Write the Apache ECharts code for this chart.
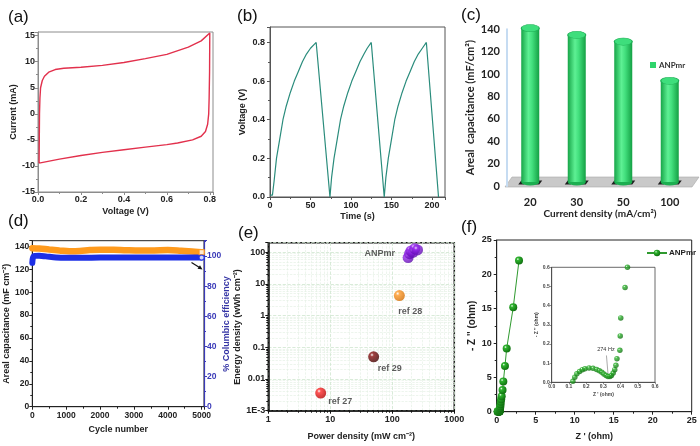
<!DOCTYPE html>
<html><head><meta charset="utf-8">
<script src="https://cdn.jsdelivr.net/npm/echarts/dist/echarts.min.js"></script>
<style>html,body{margin:0;padding:0;background:#fff}#c{width:700px;height:446px}</style>
</head><body><div id="c"></div>
<script>
// (a) cyclic voltammogram
const cvV = [0.005,0.006,0.007,0.009,0.012,0.02,0.03,0.05,0.08,0.12,0.2,0.3,0.4,0.5,0.6,0.7,0.76,0.8,
             0.799,0.797,0.795,0.79,0.78,0.76,0.72,0.65,0.6,0.5,0.4,0.3,0.2,0.1,0.005];
const cvI = [-9.45,-5,0,3,5,6.4,7.2,8.0,8.5,8.75,8.95,9.3,9.85,10.6,11.4,12.8,14.0,15.5,
             8,3,0,-2,-3.4,-4.3,-5.0,-5.6,-5.9,-6.4,-6.9,-7.4,-8.0,-8.7,-9.45];
// (b) galvanostatic charge-discharge
const gcdT = [0,3,5,8,12,16,20,25,30,35,40,45,50,57,74,76,79,83,87,91,96,101,106,111,116,120,125,141,143,146,150,154,158,163,168,173,178,183,188,193,208];
const gcdV = [0.01,0.01,0.08,0.2,0.3,0.4,0.47,0.54,0.6,0.65,0.7,0.74,0.77,0.8,0,0.1,0.2,0.3,0.4,0.47,0.54,0.6,0.65,0.7,0.74,0.77,0.8,0,0.1,0.2,0.3,0.4,0.47,0.54,0.6,0.65,0.7,0.74,0.77,0.8,0];
// (c) areal capacitance vs current density
const cdCats = ['20','30','50','100'];
const capC = [141,135,129,94];
// (d) cycling stability
const cycCap = [0,200,500,800,1100,1400,1700,2000,2400,2800,3200,3600,4000,4400,4800,5000];
const capVals = [138.5,138.2,137.3,136.5,135.8,136.0,136.8,137.2,137.0,136.6,136.4,136.5,136.8,136.2,135.3,135.0];
const cycEff = [0,40,200,400,700,1000,1500,2000,2500,3000,3500,4000,4500,5000];
const effVals = [95.5,99.8,100.2,99.8,99.1,98.9,98.9,99.0,99.0,99.0,99.0,99.0,99.0,99.0];
// (e) Ragone plot
const anpPower = [180,190,200,215,230,255];
const anpEnergy = [68,90,110,100,130,118];
const refNames = ['ref 28','ref 29','ref 27'];
const refPower = [130,50,7];
const refEnergy = [4.3,0.05,0.0036];
// (f) Nyquist plot
const zRe = [0.123,0.134,0.146,0.162,0.178,0.193,0.217,0.24,0.261,0.277,0.291,0.303,0.316,0.327,0.338,0.347,0.357,0.366,0.373,0.379,0.396,0.398,0.401,0.426,
             0.44,0.46,0.49,0.52,0.57,0.64,0.75,0.85,1.06,1.28,2.12,2.86];
const zIm = [0.005,0.027,0.044,0.057,0.066,0.071,0.075,0.073,0.067,0.06,0.052,0.043,0.036,0.03,0.03,0.036,0.048,0.066,0.089,0.123,0.167,0.242,0.336,0.494,
             0.6,0.8,1.1,1.45,1.8,2.25,3.15,4.4,6.65,9.2,15.2,22.0];

const zip = (a,b) => a.map((v,i)=>[v,b[i]]);
const F = 'Liberation Sans';
const lab = (extra) => Object.assign({fontFamily:F,fontWeight:'bold',fontSize:9,color:'#222'}, extra||{});
const nm = (extra) => Object.assign({fontFamily:F,fontWeight:'bold',fontSize:9,color:'#222'}, extra||{});
const sphere = (c, d) => new echarts.graphic.RadialGradient(0.35,0.32,0.75,[{offset:0,color:'#ffffff'},{offset:0.22,color:c},{offset:1,color:d}]);
const plain = v => String(v);
const logLab = v => v < 0.005 ? '1E-3' : String(+v.toPrecision(3));

const chart = echarts.init(document.getElementById('c'), null, {renderer:'canvas'});

const grids = [
  {left:38, top:32, width:175, height:160, show:true, borderColor:'#8c8c8c', borderWidth:1},
  {left:270, top:27, width:175, height:170, show:true, borderColor:'#555', borderWidth:1},
  {left:507, top:29.3, width:186, height:156.7},
  {left:32.3, top:240.7, width:171.7, height:166, show:true, borderColor:'#222', borderWidth:1},
  {left:268.3, top:242.7, width:186, height:168, show:true, borderColor:'#111', borderWidth:1.5},
  {left:496.7, top:240, width:195, height:171.7, show:true, borderColor:'#222', borderWidth:1},
  {left:551.7, top:267.3, width:103.3, height:115, show:true, borderColor:'#444', borderWidth:0.8}
];

const tick = (c) => ({show:true, length:3, lineStyle:{color:c||'#222'}});
const minor = (c,n) => ({show:true, splitNumber:n||2, length:2, lineStyle:{color:c||'#222'}});

const xAxes = [
  {gridIndex:0, type:'value', min:0, max:0.815, interval:0.2, axisLine:{onZero:false, lineStyle:{color:'#8c8c8c'}}, axisTick:tick('#8c8c8c'), minorTick:minor('#8c8c8c'), splitLine:{show:false},
   axisLabel:lab({margin:3, showMaxLabel:false, formatter:v=>v.toFixed(1)}), name:'Voltage (V)', nameLocation:'middle', nameGap:15, nameTextStyle:nm()},
  {gridIndex:1, type:'value', min:0, max:216, interval:50, axisLine:{onZero:false, lineStyle:{color:'#555'}}, axisTick:tick('#555'), minorTick:minor('#555'), splitLine:{show:false},
   axisLabel:lab({margin:4, showMaxLabel:false, formatter:plain}), name:'Time (s)', nameLocation:'middle', nameGap:15, nameTextStyle:nm()},
  {gridIndex:2, type:'category', data:cdCats, axisLine:{show:false}, axisTick:{show:false},
   axisLabel:{fontFamily:'Lato', fontWeight:'bold', fontSize:11, color:'#222', margin:11}, name:'Current density (mA/cm²)', nameLocation:'middle', nameGap:22,
   nameTextStyle:{fontFamily:'Lato', fontWeight:'bold', fontSize:10, color:'#222'}},
  {gridIndex:3, type:'value', min:0, max:5070, interval:1000, axisLine:{onZero:false, lineStyle:{color:'#222'}}, axisTick:tick(), minorTick:minor(), splitLine:{show:false},
   axisLabel:lab({margin:4, showMaxLabel:false, fontSize:8.5, formatter:plain}), name:'Cycle number', nameLocation:'middle', nameGap:18, nameTextStyle:nm()},
  {gridIndex:4, type:'log', min:1, max:1000, logBase:10, axisLine:{onZero:false, lineStyle:{color:'#111', width:1.5}}, axisTick:tick('#111'), minorTick:minor('#111',9),
   splitLine:{show:true, lineStyle:{color:'#cfe6cf', type:'dashed', width:0.8}}, minorSplitLine:{show:true, lineStyle:{color:'#e0efe0', type:'dashed', width:0.6}},
   axisLabel:lab({margin:4, formatter:logLab}), name:'Power density (mW cm⁻²)', nameLocation:'middle', nameGap:21, nameTextStyle:nm()},
  {gridIndex:5, type:'value', min:0, max:25, interval:5, axisLine:{onZero:false, lineStyle:{color:'#222'}}, axisTick:tick(), minorTick:minor(), splitLine:{show:false},
   axisLabel:lab({margin:4}), name:"Z ' (ohm)", nameLocation:'middle', nameGap:20, nameTextStyle:nm()},
  {gridIndex:6, type:'value', min:0, max:0.6, interval:0.1, axisLine:{onZero:false, lineStyle:{color:'#444', width:0.8}}, axisTick:{show:true,length:2,lineStyle:{color:'#444',width:0.6}}, splitLine:{show:false},
   axisLabel:lab({fontSize:5, margin:2, color:'#444', formatter:v=>v.toFixed(1)}), name:"Z ' (ohm)", nameLocation:'middle', nameGap:10, nameTextStyle:nm({fontSize:5, color:'#444'})}
];

const yAxes = [
  {gridIndex:0, type:'value', min:-15, max:15.7, interval:5, axisLine:{onZero:false, lineStyle:{color:'#8c8c8c'}}, axisTick:tick('#8c8c8c'), minorTick:minor('#8c8c8c'), splitLine:{show:false},
   axisLabel:lab({margin:3, showMaxLabel:false}), name:'Current (mA)', nameLocation:'middle', nameGap:15, nameTextStyle:nm()},
  {gridIndex:1, type:'value', min:0, max:0.88, interval:0.2, axisLine:{onZero:false, lineStyle:{color:'#555'}}, axisTick:tick('#555'), minorTick:minor('#555'), splitLine:{show:false},
   axisLabel:lab({margin:5, showMaxLabel:false, formatter:v=>v.toFixed(1)}), name:'Voltage (V)', nameLocation:'middle', nameGap:23, nameTextStyle:nm()},
  {gridIndex:2, type:'value', min:0, max:140, interval:20, axisLine:{show:true, onZero:false, lineStyle:{color:'#c6dcf2', width:2}}, axisTick:{show:false}, splitLine:{show:false},
   axisLabel:{fontFamily:'Lato', fontWeight:'bold', fontSize:11, color:'#222', margin:7}, name:'Areal  capacitance (mF/cm²)', nameLocation:'middle', nameGap:31,
   nameTextStyle:{fontFamily:'Lato', fontWeight:'bold', fontSize:11, color:'#222'}},
  {gridIndex:3, type:'value', min:0, max:145, interval:20, axisLine:{onZero:false, lineStyle:{color:'#222'}}, axisTick:tick(), minorTick:minor(), splitLine:{show:false},
   axisLabel:lab({margin:3, showMaxLabel:false, fontSize:8.5}), name:'Areal capacitance (mF cm⁻²)', nameLocation:'middle', nameGap:19, nameTextStyle:nm()},
  {gridIndex:3, type:'value', position:'right', min:0, max:110.2, interval:20, axisLine:{show:true, onZero:false, lineStyle:{color:'#3a3ab8', width:1.2}}, axisTick:tick('#3a3ab8'), minorTick:minor('#3a3ab8'), splitLine:{show:false},
   axisLabel:lab({margin:3, showMaxLabel:false, fontSize:8.5, color:'#3a3ab8'})},
  {gridIndex:4, type:'log', min:0.001, max:200, logBase:10, axisLine:{onZero:false, lineStyle:{color:'#111', width:1.5}}, axisTick:tick('#111'), minorTick:minor('#111',9),
   splitLine:{show:true, lineStyle:{color:'#cfe6cf', type:'dashed', width:0.8}}, minorSplitLine:{show:true, lineStyle:{color:'#e0efe0', type:'dashed', width:0.6}},
   axisLabel:lab({margin:3, showMaxLabel:false, formatter:logLab})},
  {gridIndex:5, type:'value', min:0, max:25, interval:5, axisLine:{onZero:false, lineStyle:{color:'#222'}}, axisTick:tick(), minorTick:minor(), splitLine:{show:false},
   axisLabel:lab({margin:5}), name:"- Z '' (ohm)", nameLocation:'middle', nameGap:19, nameTextStyle:nm({fontSize:10})},
  {gridIndex:6, type:'value', min:0, max:0.6, interval:0.1, axisLine:{onZero:false, lineStyle:{color:'#444', width:0.8}}, axisTick:{show:true,length:2,lineStyle:{color:'#444',width:0.6}}, splitLine:{show:false},
   axisLabel:lab({fontSize:5, margin:2, color:'#444', formatter:v=>v.toFixed(1)}), name:"- Z '' (ohm)", nameLocation:'middle', nameGap:12, nameTextStyle:nm({fontSize:5, color:'#444'})}
];

const cylGrad = new echarts.graphic.LinearGradient(0,0,1,0,[{offset:0,color:'#17a548'},{offset:0.4,color:'#5ef094'},{offset:0.6,color:'#43e07e'},{offset:1,color:'#14a044'}]);

const series = [
  {type:'line', name:'cv', xAxisIndex:0, yAxisIndex:0, data:zip(cvV,cvI), showSymbol:false, lineStyle:{color:'#e2304c', width:1.4}, itemStyle:{color:'#e2304c'}},
  {type:'line', name:'gcd', xAxisIndex:1, yAxisIndex:1, data:zip(gcdT,gcdV), showSymbol:false, lineStyle:{color:'#2a8c7c', width:1.2}, itemStyle:{color:'#2a8c7c'}},
  {type:'custom', name:'c:ANPmr', xAxisIndex:2, yAxisIndex:2, data:cdCats.map((c,i)=>[i,capC[i]]), itemStyle:{color:'#2fd46c'},
   renderItem:function(params, api){
     const top = api.coord([api.value(0), api.value(1)]);
     const base = api.coord([api.value(0), 0]);
     const bw = 18, cx = top[0], by = base[1]-4, ry = 3.6;
     return {type:'group', children:[
       {type:'polygon', shape:{points:[[cx-12,by+2.5],[cx-6,by+2.5],[cx-3,by-1.5],[cx-9,by-1.5]]}, style:{fill:'#1e1e1e'}},
       {type:'polygon', shape:{points:[[cx+3,by+2.5],[cx+9,by+2.5],[cx+12,by-1.5],[cx+6,by-1.5]]}, style:{fill:'#1e1e1e'}},
       {type:'circle', shape:{cx:0, cy:0, r:bw/2}, x:cx, y:by, scaleY:ry/(bw/2), style:{fill:'#1cae50'}},
       {type:'rect', shape:{x:cx-bw/2, y:top[1], width:bw, height:by-top[1]}, style:{fill:cylGrad}},
       {type:'circle', shape:{cx:0, cy:0, r:bw/2}, x:cx, y:top[1], scaleY:ry/(bw/2), style:{fill:'#3ede7c', stroke:'#1fae55', lineWidth:1.2}}
     ]};
   }},
  {type:'line', name:'cap', xAxisIndex:3, yAxisIndex:3, data:zip(cycCap,capVals), showSymbol:false, smooth:0.4, lineStyle:{color:'#ff9a1c', width:6.5, cap:'round'}, itemStyle:{color:'#ff9a1c'}},
  {type:'scatter', name:'capEnd', xAxisIndex:3, yAxisIndex:3, data:[[cycCap[cycCap.length-1], capVals[capVals.length-1]]], symbol:'rect', symbolSize:5, itemStyle:{color:'#fff', borderColor:'#ff9a1c', borderWidth:1.2}, z:5},
  {type:'line', name:'eff', xAxisIndex:3, yAxisIndex:4, data:zip(cycEff,effVals), showSymbol:false, smooth:0.3, lineStyle:{color:'#1d2fe6', width:6, cap:'round'}, itemStyle:{color:'#1d2fe6'}},
  {type:'scatter', name:'effEnd', xAxisIndex:3, yAxisIndex:4, data:[[cycEff[cycEff.length-1], effVals[effVals.length-1]]], symbol:'circle', symbolSize:5, itemStyle:{color:'#fff', borderColor:'#1d2fe6', borderWidth:1.2}, z:5},
  {type:'scatter', name:'anp', xAxisIndex:4, yAxisIndex:5, symbolSize:11, itemStyle:{color:sphere('#9a2bf0','#5a0ba8')},
   data:anpPower.map((p,i)=>({value:[p,anpEnergy[i]], label: i===1 ? {show:true, formatter:'ANPmr', position:'left', distance:9, fontFamily:F, fontWeight:'bold', fontSize:9, color:'#333'} : {show:false}}))},
  {type:'scatter', name:'refs', xAxisIndex:4, yAxisIndex:5, symbolSize:11,
   data:refNames.map((n,i)=>({value:[refPower[i],refEnergy[i]],
     itemStyle:{color: [sphere('#ff9a2a','#d06a00'), sphere('#8a1010','#3a0000'), sphere('#ff2a2a','#b00000')][i]},
     label:Object.assign({show:true, formatter:n, fontFamily:F, fontWeight:'bold', fontSize:9, color:'#333'},
       [{position:'bottom', distance:6, offset:[11,0]}, {position:'bottom', distance:2, offset:[16,0]}, {position:'right', distance:2, offset:[0,8]}][i])}))},
  {type:'line', name:'f:ANPmr', xAxisIndex:5, yAxisIndex:6, data:zip(zRe,zIm), symbol:'circle', symbolSize:8, showSymbol:true,
   lineStyle:{color:'#2f9a2f', width:1}, itemStyle:{color:sphere('#2fb52f','#0d6a0d')}},
  {type:'scatter', name:'inset', xAxisIndex:6, yAxisIndex:7, data:zip(zRe,zIm).filter(p=>p[0]<=0.6 && p[1]<=0.6), symbolSize:5.5,
   itemStyle:{color:sphere('#2fb52f','#0d6a0d')}}
];

chart.setOption({
  animation:false,
  grid:grids, xAxis:xAxes, yAxis:yAxes, series:series,
  legend:[
    {left:645, top:56, data:['c:ANPmr'], formatter:()=>'ANPmr', icon:'rect', itemWidth:6, itemHeight:6, itemGap:3, selectedMode:false,
     textStyle:{fontFamily:'Lato', fontWeight:'bold', fontSize:8, color:'#333', padding:[0,0,0,-2]}},
    {left:641, top:244, data:['f:ANPmr'], formatter:()=>'ANPmr', itemWidth:20, itemHeight:8, selectedMode:false,
     textStyle:{fontFamily:F, fontWeight:'bold', fontSize:8, color:'#222', padding:[0,0,0,-3]}}
  ]
});

// annotations
const pText = chart.convertToPixel({xAxisIndex:6, yAxisIndex:7}, [0.315, 0.169]);
const pL1 = chart.convertToPixel({xAxisIndex:6, yAxisIndex:7}, [0.318, 0.14]);
const pL2 = chart.convertToPixel({xAxisIndex:6, yAxisIndex:7}, [0.327, 0.045]);
const T = (t,x,y,s) => ({type:'text', x:x, y:y, style:{text:t, fontFamily:F, fontSize:s||17, fill:'#111'}});
const VT = (t,x,y,c) => ({type:'text', x:x, y:y, rotation:Math.PI/2, style:{text:t, fontFamily:F, fontWeight:'bold', fontSize:9, fill:c, align:'center', verticalAlign:'middle'}});
chart.setOption({graphic:[
  T('(a)',8,9), T('(b)',237,8), T('(c)',461,7), T('(d)',8,213), T('(e)',238,225), T('(f)',461,219),
  VT('% Columbic efficiency', 226.5, 324, '#3535a5'),
  VT('Energy density (wWh cm⁻²)', 237.5, 327, '#222'),
  {type:'polygon', z:-1, shape:{points:[[512,177],[699,177],[692,187],[505,187]]}, style:{fill:'#c9c9c9', stroke:'#a8a8a8', lineWidth:0.6}},
  {type:'line', shape:{x1:191.5, y1:262.5, x2:199.5, y2:267.5}, style:{stroke:'#111', lineWidth:1.2}},
  {type:'polygon', shape:{points:[[202.5,269.5],[197.5,268.8],[200,265.2]]}, style:{fill:'#111'}},
  {type:'text', x:pText[0], y:pText[1], style:{text:'274 Hz', fontFamily:F, fontSize:5.5, fill:'#333', align:'center', verticalAlign:'middle'}},
  {type:'line', shape:{x1:pL1[0], y1:pL1[1], x2:pL2[0], y2:pL2[1]}, style:{stroke:'#555', lineWidth:0.5}}
]});
</script></body></html>
